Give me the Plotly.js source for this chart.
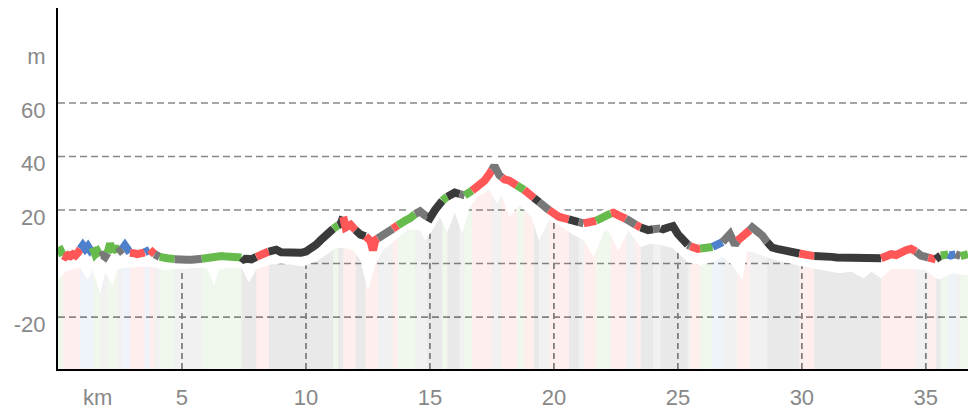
<!DOCTYPE html>
<html><head><meta charset="utf-8">
<script src="https://cdn.plot.ly/plotly-3.0.1.min.js"></script>
<style>html,body{margin:0;padding:0;background:#fff}#chart{width:977px;height:410px}</style>
</head><body><div id="chart"></div>
<script>
// Elevation profile (km, m)
const elevKm = [0.0,0.1,0.2,0.3,0.4,0.5,0.6,0.7,0.8,0.9,1.0,1.1,1.2,1.3,1.4,1.5,1.6,1.7,1.8,1.9,2.0,2.1,2.2,2.3,2.4,2.5,2.6,2.7,2.8,2.9,3.0,3.1,3.2,3.3,3.4,3.5,3.6,3.7,3.8,3.9,4.0,4.2,4.4,4.6,4.8,5.0,5.2,5.4,5.6,5.8,6.0,6.2,6.4,6.6,6.8,7.0,7.2,7.4,7.5,7.6,7.8,8.0,8.2,8.4,8.6,8.8,9.0,9.2,9.4,9.6,9.8,10.0,10.2,10.4,10.6,10.8,11.0,11.2,11.4,11.5,11.6,11.8,12.0,12.2,12.4,12.5,12.6,12.7,12.8,13.0,13.2,13.4,13.6,13.8,14.0,14.2,14.4,14.6,14.8,15.0,15.2,15.4,15.6,15.8,16.0,16.2,16.4,16.6,16.8,17.0,17.2,17.4,17.6,17.8,18.0,18.2,18.4,18.6,18.8,19.0,19.2,19.4,19.6,19.8,20.0,20.2,20.4,20.6,20.8,21.0,21.2,21.4,21.6,21.8,22.0,22.2,22.4,22.6,22.8,23.0,23.2,23.4,23.6,23.8,24.0,24.2,24.4,24.6,24.8,25.0,25.2,25.4,25.6,25.8,26.0,26.2,26.4,26.6,26.8,27.0,27.1,27.3,27.4,27.6,27.8,28.0,28.2,28.4,28.6,28.8,29.0,29.2,29.4,29.6,29.8,30.0,30.2,30.4,30.6,30.8,31.0,31.2,31.4,31.6,31.8,32.0,32.2,32.4,32.6,32.8,33.0,33.2,33.4,33.6,33.8,34.0,34.2,34.4,34.6,34.8,35.0,35.2,35.4,35.6,35.8,36.0,36.2,36.4,36.7];
const elevM  = [4.5,5.0,3.0,2.5,3.2,2.8,3.5,3.0,4.0,5.5,6.8,5.5,6.5,5.0,6.0,3.5,4.5,2.8,3.2,2.5,4.0,7.5,4.5,6.5,4.0,5.0,5.5,6.8,5.5,4.0,3.5,3.8,3.5,4.0,3.8,4.2,4.5,5.2,4.0,3.5,2.8,2.2,2.0,1.8,1.5,1.5,1.4,1.4,1.5,1.8,2.2,2.5,3.0,2.8,2.6,2.3,2.4,2.3,1.5,1.8,1.6,2.5,3.2,4.0,5.0,5.2,4.2,4.0,3.9,3.8,4.0,4.5,5.5,7.0,8.8,10.5,12.2,13.8,14.8,17.5,13.5,14.5,12.5,10.8,10.2,9.0,8.5,5.0,8.8,10.0,11.5,12.5,13.5,15.0,16.0,17.0,18.5,19.5,18.0,17.0,20.0,22.5,24.5,25.5,26.5,26.0,25.5,26.5,28.0,29.5,31.0,33.5,36.5,33.0,31.5,31.0,30.0,28.5,27.5,26.0,24.5,23.0,21.5,20.0,18.5,17.5,17.0,16.5,16.0,15.5,15.0,15.2,15.5,16.5,17.5,18.5,19.0,18.0,17.5,16.0,15.0,14.0,13.0,12.5,12.8,13.5,12.8,13.5,14.0,11.0,9.0,7.0,6.0,5.5,5.8,5.5,6.2,7.0,8.0,9.5,11.0,7.0,8.5,10.5,11.5,13.5,12.0,10.5,8.0,6.0,5.5,5.0,4.8,4.5,4.0,3.5,3.0,2.8,2.8,3.2,2.8,2.5,2.3,2.2,2.0,2.0,1.8,2.0,1.6,1.7,1.5,2.0,3.0,3.5,3.2,4.5,5.0,5.5,4.5,3.0,2.5,2.0,1.6,3.0,3.8,3.0,3.5,2.8,3.5];

// Top edge of the shaded area under the profile (km, m)
const fillKm = [0.0,0.3,0.6,0.9,1.2,1.4,1.7,1.9,2.2,2.4,2.7,3.0,3.3,3.6,4.0,4.3,4.6,5.0,5.5,6.0,6.3,6.5,7.0,7.4,7.7,8.0,8.5,9.0,9.5,9.9,10.5,11.2,11.5,11.9,12.2,12.5,12.8,13.1,13.6,14.1,14.6,14.8,15.1,15.4,15.7,16.0,16.3,16.6,16.9,17.4,17.7,17.9,18.2,18.6,19.1,19.4,19.8,20.2,20.8,21.2,21.6,22.0,22.2,22.6,23.0,23.5,23.9,24.3,24.8,25.4,25.9,26.4,26.8,27.2,27.6,27.8,28.2,28.7,29.3,29.8,30.4,30.9,31.5,32.0,32.5,32.8,33.2,33.6,34.1,34.6,35.0,35.5,36.1,36.7];
const fillM  = [-6,-3,-2,-1.5,-6,-2,-11,-3,-8,-2,-1.5,-1.5,-1,-1,-1.5,-2.5,-2,-2,-1.5,-1.5,-8,-2,-1.5,-1.5,-7,-2,-0.5,0,-0.5,-1,1.3,5.8,6,5,1.3,-10,0,5,8.8,12.5,12.5,8.8,12.5,17.4,11.8,19.3,11.4,21,25,27.5,22.6,25.6,17.4,21.9,17.4,8.8,16.3,14.4,10.7,8.8,2.5,11.8,12.5,5,12.5,6.2,7.5,7,5.8,0.6,-0.6,0.6,2.5,-0.6,-6,5,3.7,2,0.5,-0.6,-1.7,-2.5,-3.5,-3,-5.5,-3,-5.5,-2,-2,-2,-2.5,-6,-3.5,-4.5];

// Surface segments: boundaries (km) and type of each segment
const segBreaks = [0,0.2,0.9,1.4,1.7,2.0,2.4,2.6,2.9,3.5,3.7,3.9,4.1,4.7,5.8,7.4,8.0,8.5,11.1,11.3,11.5,12.0,12.4,12.9,13.5,13.7,14.4,14.9,15.5,15.7,16.2,16.4,16.7,17.5,17.9,18.5,18.8,19.2,19.4,19.8,20.6,21.0,21.2,21.7,22.3,22.9,23.3,23.5,24.0,24.3,25.4,25.5,25.9,26.4,26.8,27.4,27.9,28.6,29.9,30.5,33.2,34.6,35.1,35.4,35.6,35.9,36.2,36.4,36.7];
const segTypes = ['G','R','B','G','S','G','S','B','R','B','R','S','G','S','G','D','R','D','G','D','R','D','R','S','R','G','S','D','G','D','S','G','R','S','R','G','R','D','S','R','D','S','R','G','R','S','R','D','S','D','S','R','G','B','S','R','S','D','R','D','R','S','R','D','G','B','S','G'];

// Axis ticks and grid
const yTickVals = [-20,0,20,40,60,80];
const yTickText = ['-20','','20','40','60','m'];
const xTickVals = [1.6,5,10,15,20,25,30,35];
const xTickText = ['km','5','10','15','20','25','30','35'];
const yGridVals = [-20,0,20,40,60];
const xGridVals = [5,10,15,20,25,30,35];

const lineColors = {R:'#ff5757', G:'#66bb4c', B:'#4f80cc', S:'#787878', D:'#3a3a3a'};
const areaColors = {R:'rgba(240,70,70,0.09)', G:'rgba(90,170,60,0.09)', B:'rgba(80,120,200,0.09)', S:'rgba(0,0,0,0.055)', D:'rgba(0,0,0,0.085)'};
const yRange = [-39.4, 95.5];
const xRange = [0, 36.7];

function interp(xs, ys, x){
  if (x <= xs[0]) return ys[0];
  for (let i = 0; i < xs.length - 1; i++){
    if (x <= xs[i+1]){
      const t = (x - xs[i]) / (xs[i+1] - xs[i]);
      return ys[i] + t * (ys[i+1] - ys[i]);
    }
  }
  return ys[ys.length-1];
}
function slice(xs, ys, a, b){
  const px = [a], py = [interp(xs, ys, a)];
  for (let i = 0; i < xs.length; i++){ if (xs[i] > a && xs[i] < b){ px.push(xs[i]); py.push(ys[i]); } }
  px.push(b); py.push(interp(xs, ys, b));
  return {x: px, y: py};
}

const traces = [];
// shaded stripes
for (let s = 0; s < segTypes.length; s++){
  const a = segBreaks[s], b = segBreaks[s+1];
  const p = slice(fillKm, fillM, a, b);
  traces.push({x: p.x.concat([b, a]), y: p.y.concat([yRange[0], yRange[0]]), mode:'lines', fill:'toself',
    fillcolor: areaColors[segTypes[s]], line:{width:0}, hoverinfo:'skip', showlegend:false});
}
// vertical grid lines up to shaded area
xGridVals.forEach(v => {
  traces.push({x:[v, v], y:[yRange[0], interp(fillKm, fillM, v)], mode:'lines',
    line:{color:'#7f7f7f', width:1.8, dash:'6px,4px'}, hoverinfo:'skip', showlegend:false});
});
// white band between shaded area and profile
traces.push({x: fillKm, y: fillM, mode:'lines', line:{width:0, color:'rgba(0,0,0,0)'}, hoverinfo:'skip', showlegend:false});
traces.push({x: elevKm, y: elevM, mode:'lines', fill:'tonexty', fillcolor:'#ffffff', line:{width:0, color:'rgba(0,0,0,0)'}, hoverinfo:'skip', showlegend:false});
// white halo
traces.push({x: elevKm, y: elevM, mode:'lines', line:{width:14, color:'#ffffff'}, hoverinfo:'skip', showlegend:false});
// coloured profile
for (let s = 0; s < segTypes.length; s++){
  const p = slice(elevKm, elevM, segBreaks[s], segBreaks[s+1]);
  traces.push({x: p.x, y: p.y, mode:'lines', line:{width:8, color: lineColors[segTypes[s]]}, hoverinfo:'skip', showlegend:false});
}

const tickFont = {family:'"Liberation Sans", Arial, sans-serif', size:22, color:'#888888'};
const layout = {
  width: 977, height: 410,
  margin: {l:58, r:9, t:8, b:41},
  paper_bgcolor:'#ffffff', plot_bgcolor:'#ffffff',
  showlegend:false,
  xaxis: {range: xRange, showgrid:false, zeroline:false, showline:true, linecolor:'#000', linewidth:2,
    tickvals: xTickVals, ticktext: xTickText, tickfont: tickFont, ticks:'outside', ticklen:8, tickcolor:'rgba(0,0,0,0)',
    layer:'below traces', fixedrange:true},
  yaxis: {range: yRange, showgrid:false, zeroline:false, showline:true, linecolor:'#000', linewidth:2,
    tickvals: yTickVals, ticktext: yTickText, tickfont: tickFont, ticks:'outside', ticklen:6, tickcolor:'rgba(0,0,0,0)',
    ticklabelshift:7, layer:'below traces', fixedrange:true},
  shapes: yGridVals.map(v => ({type:'line', xref:'paper', x0:0, x1:1, yref:'y', y0:v, y1:v, layer:'below',
    line:{color:'#888888', width:1.6, dash:'7px,4px'}}))
};
Plotly.newPlot('chart', traces, layout, {displayModeBar:false, staticPlot:true});
</script></body></html>
